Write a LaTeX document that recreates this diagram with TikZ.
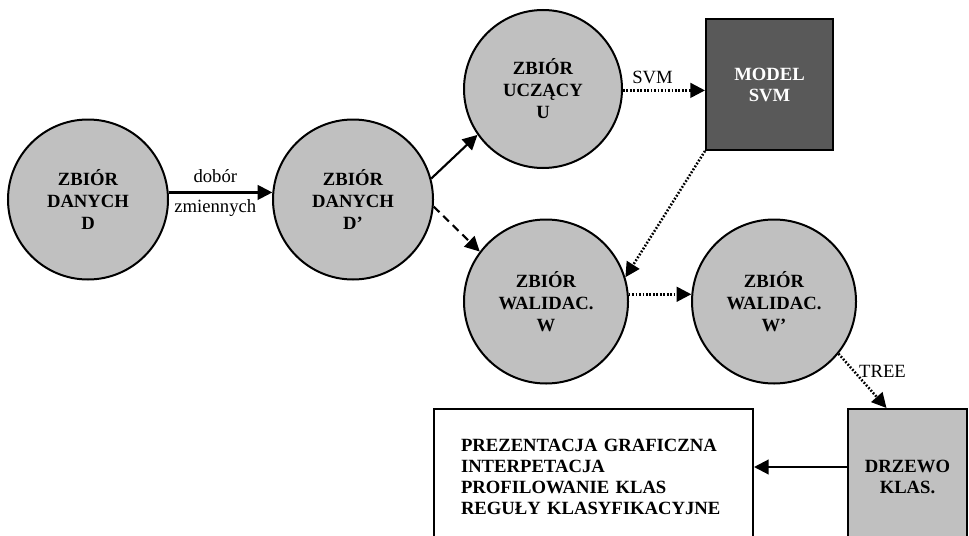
\documentclass[tikz,border=0pt]{standalone}
\usepackage{fontspec}
\setmainfont{Liberation Serif}
\usetikzlibrary{arrows.meta,calc}
\definecolor{lgray}{HTML}{C0C0C0}
\definecolor{dgray}{HTML}{595959}
\begin{document}
\begin{tikzpicture}[x=0.75pt,y=-0.75pt,
  circ/.style={circle, draw=black, line width=1.5pt, fill=lgray, inner sep=0pt, align=center, font=\fontsize{14}{16.5}\selectfont\bfseries},
  boxn/.style={rectangle, draw=black, line width=1.5pt, inner sep=0pt, align=center, font=\fontsize{14}{15.75}\selectfont\bfseries},
  arr/.style={line width=1.6pt, -{Triangle[length=11pt,width=11pt]}},
  dotarr/.style={arr, line width=1.9pt, dash pattern=on 1.3pt off 1.3pt},
  dasharr/.style={arr, dash pattern=on 6pt off 4pt},
  lab/.style={font=\fontsize{14}{16}\selectfont, inner sep=0pt}
]
\useasboundingbox (0,0) rectangle (969,535);
\clip (0,0) rectangle (969,535);

\node[circ, minimum size=120pt] (D) at (88,199.5) {ZBIÓR\\DANYCH\\D};
\node[circ, minimum size=120pt] (Dp) at (353,199.5) {ZBIÓR\\DANYCH\\D’};
\node[circ, minimum size=118.5pt] (U) at (543,89) {ZBIÓR\\UCZĄCY\\U};
\node[circ, minimum size=123pt] (W) at (546,301.5) {ZBIÓR\\WALIDAC.\\W};
\node[circ, minimum size=123pt] (Wp) at (774,301.5) {ZBIÓR\\WALIDAC.\\W’};
\node[boxn, fill=dgray, text=white, minimum width=95.25pt, minimum height=98.25pt] (M) at (769.5,84.5) {MODEL\\SVM};
\node[boxn, fill=lgray, minimum width=89.25pt, minimum height=102pt] (Dr) at (907.5,477) {DRZEWO\\KLAS.};
\node[boxn, fill=white, align=left, text width=198.75pt, inner xsep=20.25pt, minimum height=102pt] (T) at (593.5,477) {PREZENTACJA GRAFICZNA\\INTERPETACJA\\PROFILOWANIE KLAS\\REGUŁY KLASYFIKACYJNE};

\coordinate (ay) at (0,467);
\coordinate (dtop) at ($(Dr.north)+(-21,0)$);

\draw[arr] (D.5) -- (Dp.175)
  node[lab, pos=0.45, yshift=12pt] {dobór}
  node[lab, pos=0.45, yshift=-12pt] {zmiennych};
\draw[arr] (Dp.15) -- (U.215);
\draw[dasharr] (Dp.-5) -- (W.143);
\draw[dotarr] (U.-1) -- (U.-1 -| M.west) node[lab, pos=0.36, yshift=10pt] {SVM};
\draw[dotarr] (M.south west) -- (W.17);
\draw[dotarr] (W.5) -- (Wp.175);
\draw[dotarr] (Wp.-39) -- (dtop) node[lab, pos=0.32, right, xshift=3pt] {TREE};
\draw[arr] (Dr.west |- ay) -- (T.east |- ay);
\end{tikzpicture}
\end{document}
